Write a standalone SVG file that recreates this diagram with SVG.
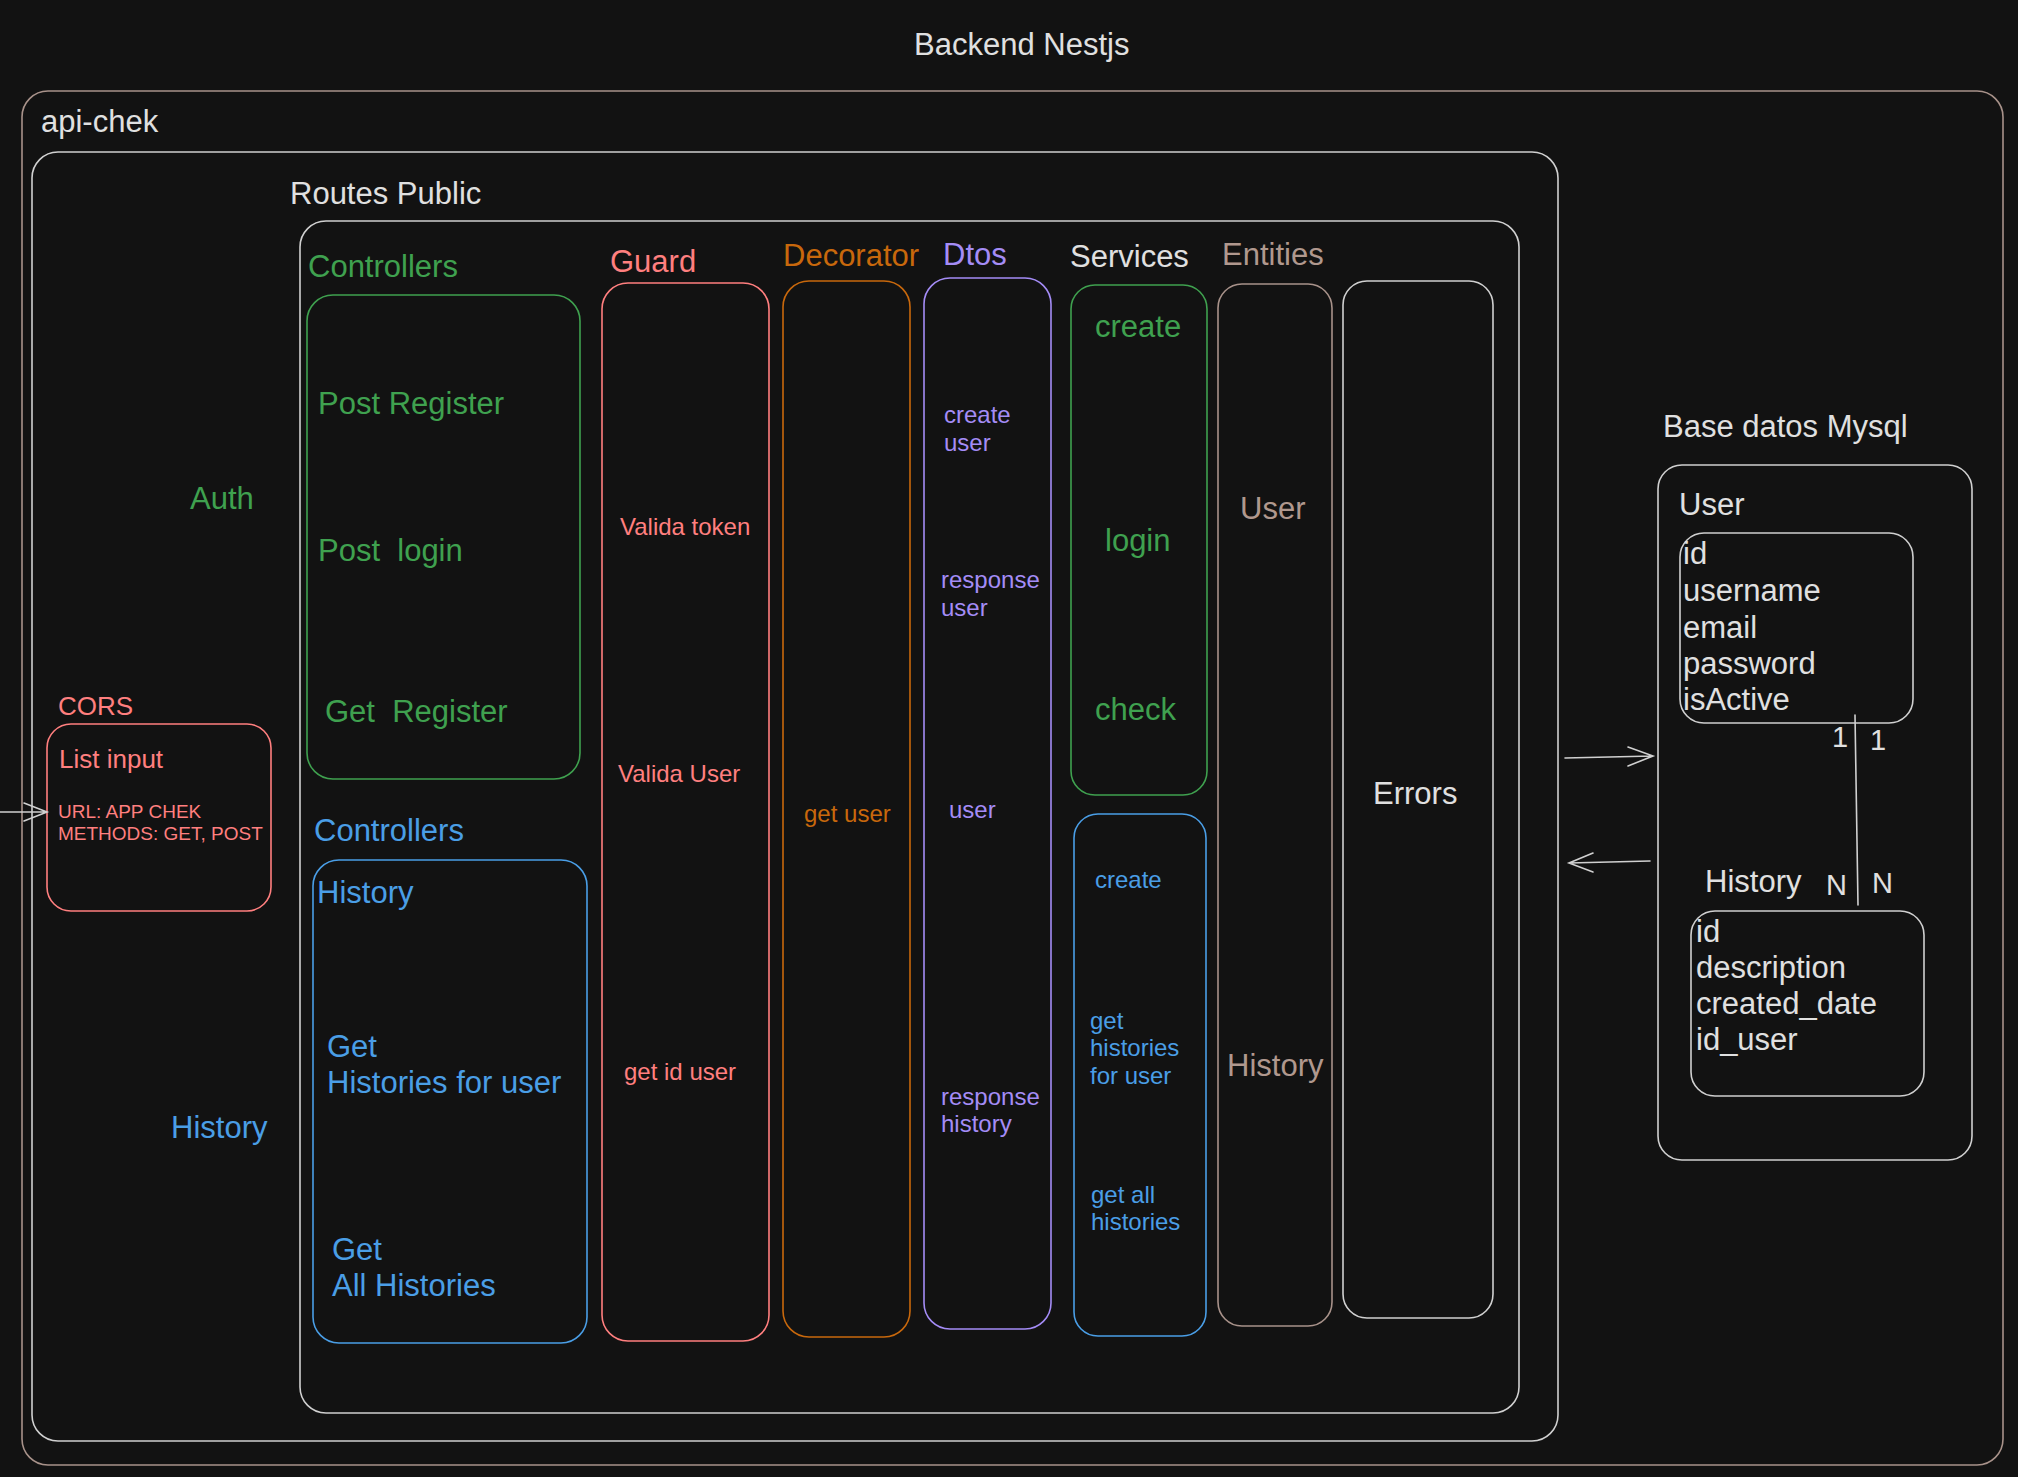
<svg xmlns="http://www.w3.org/2000/svg" width="2018" height="1477" viewBox="0 0 2018 1477">
<style>
text{font-family:"Liberation Sans",Arial,Helvetica,sans-serif;}
.big{font-size:31px;}
.sm{font-size:24px;}
.w{fill:#e0e0e0;}
.g{fill:#3fa14f;}
.r{fill:#ff7f7f;}
.o{fill:#c8680c;}
.p{fill:#a48cf6;}
.b{fill:#4a9ee6;}
.br{fill:#b0988e;}
.box{fill:none;stroke-width:1.6;}
.sw{stroke:#d0d0d0;}
.sg{stroke:#3fa14f;}
.sr{stroke:#ff7f7f;}
.so{stroke:#c8680c;}
.sp{stroke:#a48cf6;}
.sb{stroke:#4a9ee6;}
.sbr{stroke:#a8928a;}
.line{fill:none;stroke:#d0d0d0;stroke-width:1.6;stroke-linecap:round;}
</style>
<rect width="2018" height="1477" fill="#121212"/>
<text class="big w" x="914" y="55">Backend Nestjs</text>

<g id="api-chek">
<rect class="box sbr" x="22" y="91" width="1981" height="1374" rx="26"/>
<text class="big w" x="41" y="132">api-chek</text>
</g>
<g id="app-box">
<rect class="box sw" x="32" y="152" width="1526" height="1289" rx="26"/>
</g>
<g id="routes-public">
<text class="big w" x="290" y="204">Routes Public</text>
<rect class="box sw" x="300" y="221" width="1219" height="1192" rx="26"/>
</g>

<g id="cors">
<text x="58" y="715" class="r" font-size="26">CORS</text>
<rect class="box sr" x="47" y="724" width="224" height="187" rx="24"/>
<text x="59" y="768" class="r" font-size="26">List input</text>
<text x="58" y="818" class="r" font-size="19">URL: APP CHEK</text>
<text x="58" y="840" class="r" font-size="19">METHODS: GET, POST</text>
</g>

<g id="auth-label"><text class="big g" x="190" y="509">Auth</text></g>
<g id="history-label"><text class="big b" x="171" y="1138">History</text></g>

<g id="controllers-auth">
<text class="big g" x="308" y="277">Controllers</text>
<rect class="box sg" x="307" y="295" width="273" height="484" rx="26"/>
<text class="big g" x="318" y="414">Post Register</text>
<text class="big g" x="318" y="561" xml:space="preserve">Post  login</text>
<text class="big g" x="325" y="722" xml:space="preserve">Get  Register</text>
</g>

<g id="controllers-history">
<text class="big b" x="314" y="841">Controllers</text>
<rect class="box sb" x="313" y="860" width="274" height="483" rx="26"/>
<text class="big b" x="317" y="903">History</text>
<text class="big b" x="327" y="1057">Get</text>
<text class="big b" x="327" y="1093">Histories for user</text>
<text class="big b" x="332" y="1260">Get</text>
<text class="big b" x="332" y="1296">All Histories</text>
</g>

<g id="guard">
<text class="big r" x="610" y="272">Guard</text>
<rect class="box sr" x="602" y="283" width="167" height="1058" rx="26"/>
<text class="sm r" x="620" y="535">Valida token</text>
<text class="sm r" x="618" y="782">Valida User</text>
<text class="sm r" x="624" y="1080">get id user</text>
</g>

<g id="decorator">
<text class="big o" x="783" y="266">Decorator</text>
<rect class="box so" x="783" y="281" width="127" height="1056" rx="26"/>
<text class="sm o" x="804" y="822">get user</text>
</g>

<g id="dtos">
<text class="big p" x="943" y="265">Dtos</text>
<rect class="box sp" x="924" y="278" width="127" height="1051" rx="26"/>
<text class="sm p" x="944" y="423">create</text>
<text class="sm p" x="944" y="451">user</text>
<text class="sm p" x="941" y="588">response</text>
<text class="sm p" x="941" y="616">user</text>
<text class="sm p" x="949" y="818">user</text>
<text class="sm p" x="941" y="1105">response</text>
<text class="sm p" x="941" y="1132">history</text>
</g>

<g id="services">
<text class="big w" x="1070" y="267">Services</text>
<rect class="box sg" x="1071" y="285" width="136" height="510" rx="24"/>
<text class="big g" x="1095" y="337">create</text>
<text class="big g" x="1105" y="551">login</text>
<text class="big g" x="1095" y="720">check</text>
<rect class="box sb" x="1074" y="814" width="132" height="522" rx="24"/>
<text class="sm b" x="1095" y="888">create</text>
<text class="sm b" x="1090" y="1029">get</text>
<text class="sm b" x="1090" y="1056">histories</text>
<text class="sm b" x="1090" y="1084">for user</text>
<text class="sm b" x="1091" y="1203">get all</text>
<text class="sm b" x="1091" y="1230">histories</text>
</g>

<g id="entities">
<text class="big br" x="1222" y="265">Entities</text>
<rect class="box sbr" x="1218" y="284" width="114" height="1042" rx="24"/>
<text class="big br" x="1240" y="519">User</text>
<text class="big br" x="1227" y="1076">History</text>
</g>

<g id="errors">
<rect class="box sw" x="1343" y="281" width="150" height="1037" rx="24"/>
<text class="big w" x="1373" y="804">Errors</text>
</g>

<g id="mysql">
<text class="big w" x="1663" y="437">Base datos Mysql</text>
<rect class="box sw" x="1658" y="465" width="314" height="695" rx="24"/>
</g>
<g id="user-table">
<text class="big w" x="1679" y="515">User</text>
<rect class="box sw" x="1680" y="533" width="233" height="190" rx="24"/>
<text class="big w" x="1683" y="564">id</text>
<text class="big w" x="1683" y="601">username</text>
<text class="big w" x="1683" y="638">email</text>
<text class="big w" x="1683" y="674">password</text>
<text class="big w" x="1683" y="710">isActive</text>
</g>
<g id="history-table">
<text class="big w" x="1705" y="892">History</text>
<rect class="box sw" x="1691" y="911" width="233" height="185" rx="24"/>
<text class="big w" x="1696" y="942">id</text>
<text class="big w" x="1696" y="978">description</text>
<text class="big w" x="1696" y="1014">created_date</text>
<text class="big w" x="1696" y="1050">id_user</text>
</g>

<g id="connectors">
<path class="line" d="M0 812 L47 812 M24 803 L47 812 L24 821"/>
<path class="line" d="M1565 758 L1653 756 M1628 747 L1653 756 L1628 766"/>
<path class="line" d="M1650 861 L1569 863 M1593 853 L1569 863 L1593 872"/>
<path class="line" d="M1855 715 L1858 905"/>
<text class="w" font-size="29" x="1832" y="747">1</text>
<text class="w" font-size="29" x="1870" y="750">1</text>
<text class="w" font-size="29" x="1826" y="895">N</text>
<text class="w" font-size="29" x="1872" y="893">N</text>
</g>
</svg>
